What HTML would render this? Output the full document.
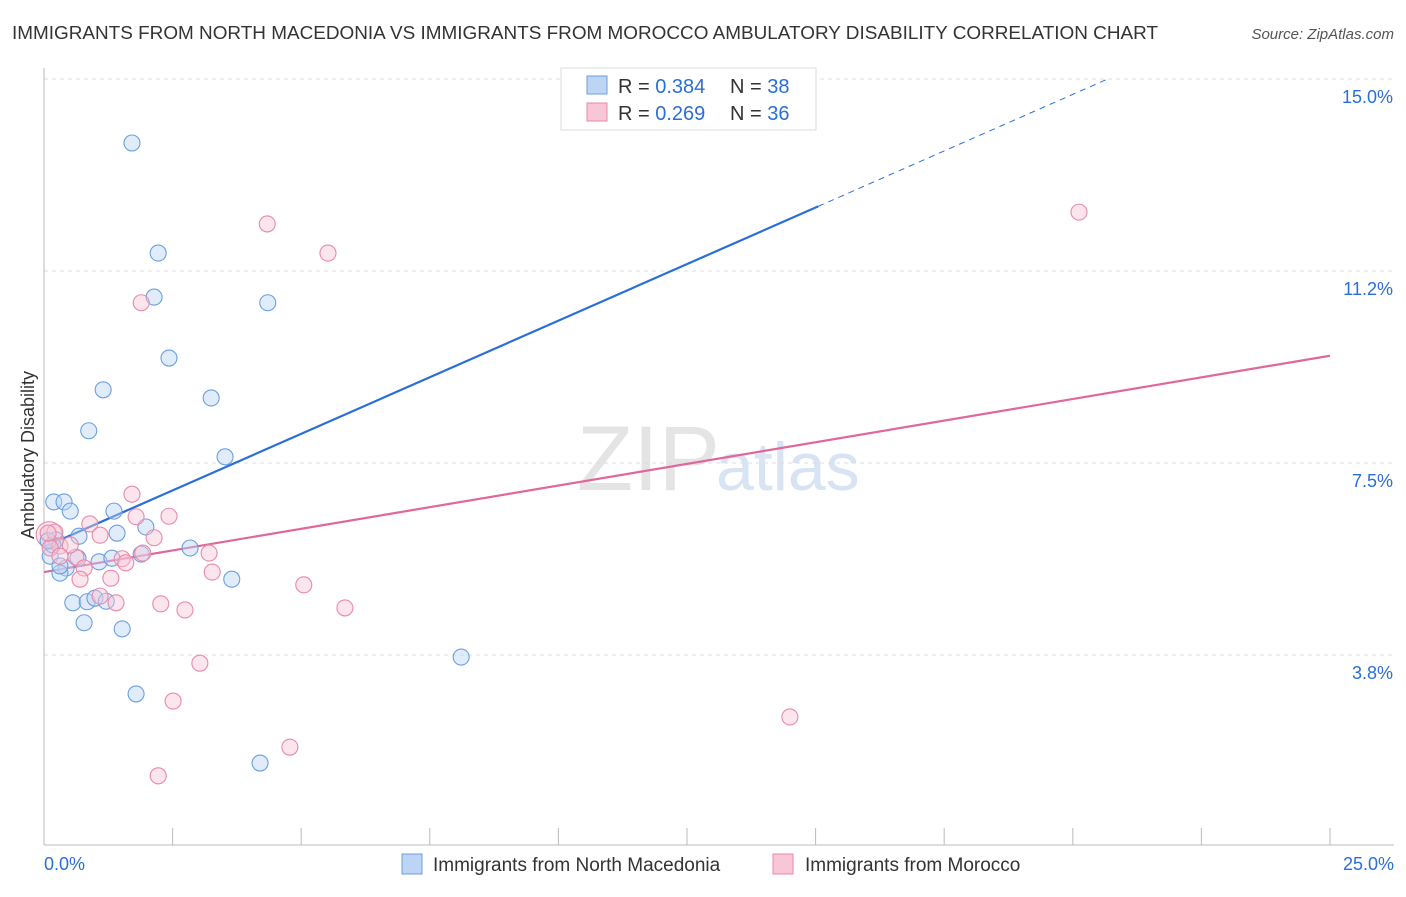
<!DOCTYPE html>
<html><head><meta charset="utf-8"><style>
body{margin:0;background:#fff;font-family:"Liberation Sans",sans-serif}
svg text{font-family:"Liberation Sans",sans-serif}
</style></head><body>
<svg id="c" width="1406" height="892">
<text x="12" y="39" font-size="18" fill="#333" textLength="1146" lengthAdjust="spacingAndGlyphs">IMMIGRANTS FROM NORTH MACEDONIA VS IMMIGRANTS FROM MOROCCO AMBULATORY DISABILITY CORRELATION CHART</text>
<text x="1394" y="39" font-size="15" fill="#555" text-anchor="end" font-style="italic">Source: ZipAtlas.com</text>
<text x="720" y="490" font-size="92" fill="#e4e4e4" text-anchor="end" font-family="Liberation Serif">ZIP</text>
<text x="716" y="490" font-size="68" fill="#d8e4f4">atlas</text>
<g id="grid"></g><g id="axes"></g><g id="lines"></g><g id="pts"></g>
<text x="34" y="455" font-size="18" fill="#333" text-anchor="middle" transform="rotate(-90 34 455)">Ambulatory Disability</text>
<g>
<rect x="561" y="68" width="255" height="62" fill="#fff" stroke="#ddd"/>
<rect x="587" y="76" width="20" height="18" fill="#bcd5f5" stroke="#6a9fe0"/>
<rect x="587" y="103" width="20" height="18" fill="#f8c6d6" stroke="#e88aa8"/>
<text x="618" y="93" font-size="20" fill="#333">R = <tspan fill="#2a6fd6">0.384</tspan></text>
<text x="730" y="93" font-size="20" fill="#333">N = <tspan fill="#2a6fd6">38</tspan></text>
<text x="618" y="120" font-size="20" fill="#333">R = <tspan fill="#2a6fd6">0.269</tspan></text>
<text x="730" y="120" font-size="20" fill="#333">N = <tspan fill="#2a6fd6">36</tspan></text>
</g>
<g>
<rect x="402" y="854" width="20" height="20" fill="#bcd5f5" stroke="#6a9fe0"/>
<text x="433" y="871" font-size="19" fill="#333">Immigrants from North Macedonia</text>
<rect x="773" y="854" width="20" height="20" fill="#f8c6d6" stroke="#e88aa8"/>
<text x="805" y="871" font-size="19" fill="#333">Immigrants from Morocco</text>
</g>
</svg>
<script>
const yTicks=[3.75,7.5,11.25,15];
const yTickLabels=["3.8%","7.5%","11.2%","15.0%"];
const xTicks=[0,2.5,5,7.5,10,12.5,15,17.5,20,22.5,25];
const blueX=[1.71,2.22,2.14,4.35,2.43,1.15,3.25,0.87,3.52,0.19,0.39,0.51,1.36,1.42,1.98,0.68,0.23,0.12,0.66,1.07,1.32,1.89,2.84,0.43,0.31,3.65,0.56,0.84,0.99,1.21,0.78,1.52,8.11,1.79,4.20,0.17,0.08,0.31];
const blueY=[13.75,11.6,10.74,10.63,9.55,8.93,8.77,8.13,7.62,6.74,6.74,6.56,6.56,6.13,6.25,6.07,6.0,5.68,5.64,5.57,5.64,5.72,5.84,5.45,5.35,5.23,4.77,4.79,4.86,4.8,4.38,4.26,3.71,2.99,1.64,5.9,5.98,5.49];
const pinkX=[4.34,5.52,1.89,20.12,1.71,2.43,1.79,0.89,1.09,2.14,0.21,0.31,0.12,0.08,0.62,1.52,1.92,3.21,0.78,1.59,1.3,0.7,3.27,5.05,2.27,1.4,1.09,2.74,5.85,3.03,2.51,14.5,4.78,2.22,0.51,0.31];
const pinkY=[12.17,11.6,10.63,12.4,6.89,6.46,6.45,6.31,6.09,6.04,6.15,5.88,5.84,6.13,5.66,5.63,5.74,5.74,5.45,5.55,5.25,5.23,5.37,5.12,4.75,4.77,4.9,4.63,4.67,3.59,2.85,2.54,1.95,1.39,5.9,5.68];
const blueTrend=[5.86,0.442];
const pinkTrend=[5.37,0.169];
const X=v=>44+v*51.44, Y=v=>847-v*51.2;
const NS="http://www.w3.org/2000/svg";
function mk(p,t,a){const e=document.createElementNS(NS,t);for(const k in a)e.setAttribute(k,a[k]);p.appendChild(e);return e;}
const grid=document.getElementById('grid'),axes=document.getElementById('axes'),lines=document.getElementById('lines'),pts=document.getElementById('pts');
yTicks.forEach((t,i)=>{
 const l=mk(grid,'line',{x1:44,x2:1394,y1:Y(t),y2:Y(t),stroke:'#ddd','stroke-dasharray':'4,4'});
 
 
 const tx=mk(axes,'text',{x:1393,y:Y(t)+24,'font-size':18,fill:'#2a6fd6','text-anchor':'end'});
 tx.textContent=yTickLabels[i];
 
 
});
const xa=mk(axes,'line',{x1:44,x2:1394,y1:845,y2:845,stroke:'#bbb'});


const ya=mk(axes,'line',{x1:44,x2:44,y1:68,y2:845,stroke:'#bbb'});


xTicks.forEach(t=>{
 const l=mk(axes,'line',{x1:X(t),x2:X(t),y1:828,y2:845,stroke:'#bbb'});
 
 
});
[[0,"0.0%","start",44],[25,"25.0%","end",1394]].forEach(d=>{
 const tx=mk(axes,'text',{x:d[3],y:870,'font-size':18,fill:'#2a6fd6','text-anchor':d[2]});
 tx.textContent=d[1];
 
 
});
function pt(x,y,r,f,s,n){const c=mk(pts,'circle',{cx:X(x),cy:Y(y),r:r,fill:f,'fill-opacity':0.45,stroke:s,'stroke-width':1.1});
 
 }
mk(pts,'circle',{cx:X(0.1),cy:Y(6.1),r:13,fill:'#f8c6d6','fill-opacity':0.45,stroke:'#e88aa8'});
blueX.forEach((x,i)=>pt(x,blueY[i],8,'#bcd5f5','#6a9fe0','blue-point'));
pinkX.forEach((x,i)=>pt(x,pinkY[i],8,'#f8c6d6','#e88aa8','pink-point'));
const bEnd=(15-blueTrend[0])/blueTrend[1];
const b1=mk(lines,'line',{x1:X(0),y1:Y(blueTrend[0]),x2:X(15.05),y2:Y(blueTrend[0]+blueTrend[1]*15.05),stroke:'#2a6fd6','stroke-width':2.2});


const b2=mk(lines,'line',{x1:X(15.05),y1:Y(blueTrend[0]+blueTrend[1]*15.05),x2:X(bEnd),y2:Y(15),stroke:'#2a6fd6','stroke-width':1,'stroke-dasharray':'6,5'});


const p1=mk(lines,'line',{x1:X(0),y1:Y(pinkTrend[0]),x2:X(25),y2:Y(pinkTrend[0]+pinkTrend[1]*25),stroke:'#e0679a','stroke-width':2.2});


</script>
</body></html>
